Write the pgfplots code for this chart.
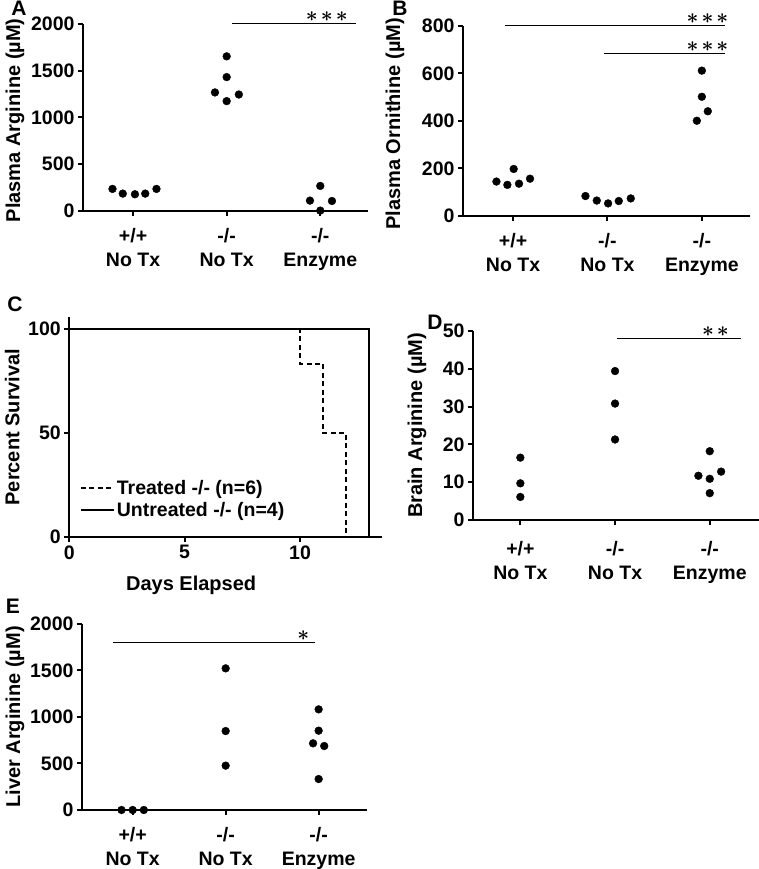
\documentclass[border=0pt]{standalone}
\usepackage{fontspec}
\setmainfont{Liberation Sans}
\usepackage{pgfplots}
\pgfplotsset{compat=1.18}

\newcommand{\tfont}{\fontsize{19.5bp}{24bp}\selectfont\bfseries}
\newcommand{\lfont}{\fontsize{20bp}{24bp}\selectfont\bfseries}
\newcommand{\pfont}{\fontsize{21bp}{24bp}\selectfont\bfseries}
\newcommand{\sfont}{\fontsize{22bp}{24bp}\selectfont\boldmath}

\tikzset{sig/.style={line width=1bp, black}}
\pgfplotsset{
 panel/.style={
  scale only axis, axis lines*=left,
  axis line style={line width=2bp, black},
  tick align=outside, major tick length=5bp,
  tick style={line width=2bp, black},
  tick label style={font=\tfont},
  label style={font=\lfont},
  /pgf/number format/assume math mode=true,
  /pgf/number format/1000 sep={},
  clip=false,
 },
 cat/.style={xtick={0,1,2},
  xticklabels={{+/+\\No Tx},{-/-\\No Tx},{-/-\\Enzyme}},
  xticklabel style={align=center, yshift=-9bp}},
 dots/.style={only marks, mark=*, mark size=3.9bp, black},
}

\begin{document}
\begin{tikzpicture}
\useasboundingbox (0,0) rectangle (759bp,869bp);

% Panel letters
\node[font=\pfont] at (19bp,860.5bp) {A};
\node[font=\pfont] at (400bp,860.5bp) {B};
\node[font=\pfont] at (15bp,565bp) {C};
\node[font=\pfont] at (435bp,547bp) {D};
\node[font=\pfont] at (13bp,263bp) {E};

% ---------------- A
\begin{axis}[panel, cat, at={(83bp,658bp)}, anchor=south west,
  width=285bp, height=187bp, xmin=-0.535, xmax=2.51, ymin=0, ymax=2000,
  ytick={0,500,1000,1500,2000},
  ylabel={Plasma Arginine (µM)},
  ylabel style={at={(axis description cs:-0.239,0.485)}, anchor=center}]
\addplot[dots] coordinates {(-0.22,236) (-0.11,186) (0.02,179) (0.13,186) (0.25,236)};
\addplot[dots] coordinates {(1.0,1654) (1.0,1432) (0.875,1268) (1.13,1246) (1.0,1175)};
\addplot[dots] coordinates {(2.0,268) (1.89,111) (2.125,107) (2.0,4)};
\draw[sig] (axis cs:1.06,2000) -- (axis cs:2.38,2000);
\node[font=\sfont, yshift=7bp] at (axis cs:2.07,2000) {${\ast}\kern3bp{\ast}\kern3bp{\ast}$};
\end{axis}

% ---------------- B
\begin{axis}[panel, cat, at={(463bp,653bp)}, anchor=south west,
  width=287bp, height=190bp, xmin=-0.53, xmax=2.51, ymin=0, ymax=800,
  ytick={0,200,400,600,800},
  ylabel={Plasma Ornithine (µM)},
  ylabel style={at={(axis description cs:-0.237,0.485)}, anchor=center}]
\addplot[dots] coordinates {(-0.176,145) (-0.06,131) (0.007,198) (0.063,136) (0.18,157)};
\addplot[dots] coordinates {(0.767,84) (0.887,65) (1.007,53) (1.12,63) (1.247,74)};
\addplot[dots] coordinates {(2.0,612) (2.0,502) (2.063,441) (1.947,401)};
\draw[sig] (axis cs:-0.085,800) -- (axis cs:2.25,800);
\draw[sig] (axis cs:0.96,685) -- (axis cs:2.25,685);
\node[font=\sfont, yshift=7bp] at (axis cs:2.06,800) {${\ast}\kern3bp{\ast}\kern3bp{\ast}$};
\node[font=\sfont, yshift=7bp] at (axis cs:2.06,685) {${\ast}\kern3bp{\ast}\kern3bp{\ast}$};
\end{axis}

% ---------------- C
\begin{axis}[panel, at={(69.3bp,332bp)}, anchor=south west,
  width=312.4bp, height=220bp, xmin=0, xmax=13.54, ymin=0, ymax=105.8,
  xtick={0,5,10}, ytick={0,50,100},
  xlabel={Days Elapsed}, ylabel={Percent Survival},
  xlabel style={at={(axis description cs:0.39,-0.218)}, anchor=center},
  ylabel style={at={(axis description cs:-0.183,0.5)}, anchor=center},
  legend style={at={(axis cs:0.45,28.5)}, anchor=north west, draw=none, fill=none,
    font=\tfont, inner sep=0pt, row sep=3bp, cells={anchor=west}},
  legend image code/.code={\draw[#1] (0bp,0bp) -- (33bp,0bp);}]
\addplot[black, line width=2bp, dash pattern=on 5bp off 3.5bp] coordinates
  {(0,100) (10,100) (10,83.33) (11,83.33) (11,50) (12,50) (12,0)};
\addlegendentry{Treated -/- (n=6)}
\addplot[black, line width=2bp] coordinates {(0,100) (13,100) (13,0)};
\addlegendentry{Untreated -/- (n=4)}
\end{axis}

% ---------------- D
\begin{axis}[panel, cat, at={(473bp,349bp)}, anchor=south west,
  width=286bp, height=189bp, xmin=-0.5, xmax=2.52, ymin=0, ymax=50,
  ytick={0,10,20,30,40,50},
  xticklabel style={yshift=-4bp},
  ylabel={Brain Arginine (µM)},
  ylabel style={at={(axis description cs:-0.196,0.5)}, anchor=center}]
\addplot[dots] coordinates {(0,16.5) (0,9.7) (0,6.1)};
\addplot[dots] coordinates {(1,39.4) (1,30.8) (1,21.3)};
\addplot[dots] coordinates {(2,18.2) (1.88,11.7) (2.12,12.8) (2,10.9) (2,7.1)};
\draw[sig] (axis cs:1.02,48) -- (axis cs:2.33,48);
\node[font=\sfont, yshift=7bp] at (axis cs:2.06,48) {${\ast}\kern3bp{\ast}$};
\end{axis}

% ---------------- E
\begin{axis}[panel, cat, at={(82bp,59bp)}, anchor=south west,
  width=285bp, height=186bp, xmin=-0.545, xmax=2.52, ymin=0, ymax=2000,
  ytick={0,500,1000,1500,2000},
  ylabel={Liver Arginine (µM)},
  ylabel style={at={(axis description cs:-0.235,0.5)}, anchor=center}]
\addplot[dots] coordinates {(-0.12,0) (0,0) (0.12,0)};
\addplot[dots] coordinates {(1,1523) (1,849) (1,477)};
\addplot[dots] coordinates {(2.0,1082) (2.0,853) (1.94,717) (2.06,688) (2.0,333)};
\draw[sig] (axis cs:-0.21,1806) -- (axis cs:1.96,1806);
\node[font=\sfont, yshift=6bp] at (axis cs:1.835,1806) {${\ast}$};
\end{axis}

\end{tikzpicture}
\end{document}
